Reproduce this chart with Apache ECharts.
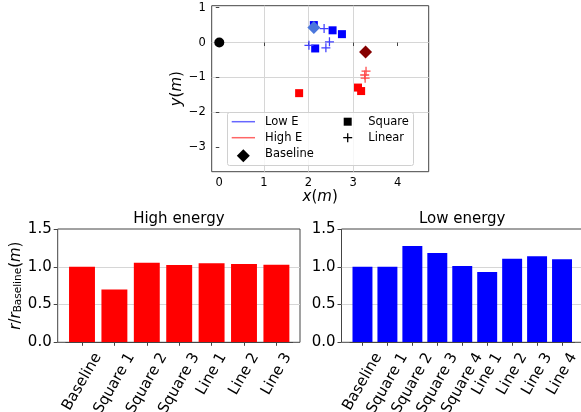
<!DOCTYPE html>
<html>
<head>
<meta charset="utf-8">
<script src="https://cdn.jsdelivr.net/npm/echarts@6/dist/echarts.min.js"></script>
<style>
  html, body { margin: 0; padding: 0; background: #fff; }
  #main { width: 581px; height: 412px; }
</style>
</head>
<body>
<div id="main"></div>
<script>
// top panel: positions in metres
const xTicks = [0, 1, 2, 3, 4];
const yTicks = [1, 0, -1, -2, -3];
const origin = [[0, 0]];
const lowSquare = [[2.15, -0.17], [2.75, 0.24], [2.54, 0.35], [2.12, 0.50]];
const lowLinear = [[2.01, -0.08], [2.39, -0.15], [2.47, 0.02], [2.35, 0.40]];
const highSquare = [[1.79, -1.45], [3.18, -1.39], [3.11, -1.29]];
const highLinear = [[3.27, -1.02], [3.26, -0.93], [3.29, -0.82]];
const lowBaseline = [[2.12, 0.43]];
const highBaseline = [[3.28, -0.27]];
const legendLabels = ['Low E', 'High E', 'Baseline', 'Square', 'Linear'];

// bottom panels: r / r_Baseline
const highCats = ['Baseline', 'Square 1', 'Square 2', 'Square 3', 'Line 1', 'Line 2', 'Line 3'];
const highRatio = [1.0, 0.70, 1.054, 1.024, 1.046, 1.037, 1.028];
const lowCats = ['Baseline', 'Square 1', 'Square 2', 'Square 3', 'Square 4', 'Line 1', 'Line 2', 'Line 3', 'Line 4'];
const lowRatio = [1.0, 1.0, 1.275, 1.183, 1.01, 0.931, 1.107, 1.139, 1.099];
const barTicks = [0, 0.5, 1.0, 1.5];

const FONT = '"DejaVu Sans", sans-serif';
const frame = '#444';
const gridCol = '#d6d6d6';
const plusPath = 'path://M4.3,0h1.4v4.3h4.3v1.4h-4.3v4.3h-1.4v-4.3h-4.3v-1.4h4.3z';

function minus(v) { return String(v).replace('-', '\u2212'); }

// matplotlib centres the rotated label's box under the tick,
// echarts hangs it from its end: push each label with rich padding
const measureCtx = document.createElement('canvas').getContext('2d');
function tiltedRich(cats, fs) {
  measureCtx.font = fs + 'px "DejaVu Sans"';
  const rich = {};
  cats.forEach(function (c, i) {
    const w = measureCtx.measureText(c).width;
    const dx = 0.25 * w, dy = 12;
    const b = 0.866 * dx + 0.5 * dy;
    const r = Math.max(0, 0.866 * dy - 0.5 * dx);
    rich['t' + i] = { fontSize: fs, fontFamily: FONT, color: '#000', padding: [2 * b, r, 0, 0] };
  });
  return rich;
}

const mathRich = {
  i: { fontSize: 15, fontStyle: 'italic', fontFamily: FONT, color: '#000' },
  n: { fontSize: 15, fontFamily: FONT, color: '#000' },
  s: { fontSize: 10.5, fontFamily: FONT, color: '#000', verticalAlign: 'bottom' }
};

function frameGrid(left, width) {
  return { left: left, top: 229, width: width, height: 113.3, show: true, borderColor: frame,
    borderWidth: 1, backgroundColor: '#fff', outerBoundsMode: 'none', containLabel: false };
}
function barGrid(left, width) {
  return { left: left, top: 229, width: width, height: 113.3, outerBoundsMode: 'none', containLabel: false };
}
function frameY(idx, name) {
  return {
    gridIndex: idx, type: 'value', min: 0, max: 1.5, interval: 0.5,
    axisLine: { show: false },
    axisTick: { show: true, length: 4, lineStyle: { color: frame } },
    axisLabel: { fontSize: 15, fontFamily: FONT, color: '#000', margin: 6,
      formatter: function (v) { return v.toFixed(1); } },
    splitLine: { show: true, showMinLine: false, showMaxLine: false, lineStyle: { color: gridCol, width: 1 } },
    name: name, nameLocation: 'middle', nameRotate: 90, nameGap: 32,
    nameTextStyle: { rich: mathRich }
  };
}
function barX(idx, cats) {
  return {
    gridIndex: idx, type: 'category', data: cats, z: 5,
    axisLine: { show: true, lineStyle: { color: frame, width: 1 } },
    axisTick: { show: true, alignWithLabel: true, length: 3.5, lineStyle: { color: frame } },
    axisLabel: { interval: 0, rotate: 60, margin: 0, align: 'right', verticalAlign: 'middle',
      fontSize: 15, fontFamily: FONT, color: '#000', rich: tiltedRich(cats, 15),
      formatter: function (v, i) { return '{t' + i + '|' + v + '}'; } },
    splitLine: { show: false }
  };
}

const scatterBase = { type: 'scatter', xAxisIndex: 0, yAxisIndex: 0 };
function pts(data, symbol, size, color) {
  return Object.assign({}, scatterBase, { data: data, symbol: symbol, symbolSize: size,
    itemStyle: { color: color, opacity: 1 } });
}

const chart = echarts.init(document.getElementById('main'));
chart.setOption({
  animation: false,
  backgroundColor: '#fff',
  textStyle: { fontFamily: FONT },
  title: [
    { text: 'High energy', left: 178.9, top: 211.5, textAlign: 'center', padding: 0,
      textStyle: { fontSize: 15, fontWeight: 'normal', color: '#000', fontFamily: FONT } },
    { text: 'Low energy', left: 462.2, top: 211.5, textAlign: 'center', padding: 0,
      textStyle: { fontSize: 15, fontWeight: 'normal', color: '#000', fontFamily: FONT } }
  ],
  grid: [
    { left: 211.7, top: 5.7, width: 217, height: 166, show: true, borderColor: frame, borderWidth: 1,
      backgroundColor: '#fff', outerBoundsMode: 'none', containLabel: false },
    frameGrid(57.7, 242.3),
    barGrid(65.8, 226.8),
    frameGrid(341.5, 241.5),
    barGrid(350, 224.5)
  ],
  xAxis: [
    { gridIndex: 0, type: 'value', min: -0.17, max: 4.695,
      axisLine: { show: false },
      axisTick: { show: true, customValues: xTicks, length: 3.5, lineStyle: { color: frame } },
      axisLabel: { customValues: xTicks, fontSize: 11.5, fontFamily: FONT, color: '#000', margin: 5, formatter: minus },
      splitLine: { show: true, showMinLine: false, showMaxLine: false, lineStyle: { color: gridCol, width: 1 } },
      name: '{i|x}{n|(}{i|m}{n|)}', nameLocation: 'middle', nameGap: 18, nameTextStyle: { rich: mathRich } },
    { gridIndex: 1, type: 'value', min: 0, max: 1, show: false },
    barX(2, highCats),
    { gridIndex: 3, type: 'value', min: 0, max: 1, show: false },
    barX(4, lowCats)
  ],
  yAxis: [
    { gridIndex: 0, type: 'value', min: -3.70, max: 1.055,
      axisLine: { show: false },
      axisTick: { show: true, customValues: yTicks, length: 3.5, lineStyle: { color: frame } },
      axisLabel: { customValues: yTicks, fontSize: 11.5, fontFamily: FONT, color: '#000', margin: 6, formatter: minus },
      splitLine: { show: true, showMinLine: false, showMaxLine: false, lineStyle: { color: gridCol, width: 1 } },
      name: '{i|y}{n|(}{i|m}{n|)}', nameLocation: 'middle', nameRotate: 90, nameGap: 24, nameTextStyle: { rich: mathRich } },
    frameY(1, '{i|r}{n|/}{i|r}{s|Baseline}{n|(}{i|m}{n|)}'),
    { gridIndex: 2, type: 'value', min: 0, max: 1.5, show: false },
    frameY(3, ''),
    { gridIndex: 4, type: 'value', min: 0, max: 1.5, show: false }
  ],
  series: [
    pts(origin, 'circle', 10, '#000'),
    pts(lowSquare, 'rect', 8, '#0000ff'),
    pts(lowLinear, plusPath, 9, '#4040ff'),
    pts(highSquare, 'rect', 8, '#ff0000'),
    pts(highLinear, plusPath, 9, '#ff4a4a'),
    pts(lowBaseline, 'diamond', 13, '#4b77dc'),
    pts(highBaseline, 'diamond', 13, '#850000'),
    { type: 'bar', xAxisIndex: 2, yAxisIndex: 2, data: highRatio, barWidth: '80%',
      itemStyle: { color: '#ff0000' } },
    { type: 'bar', xAxisIndex: 4, yAxisIndex: 4, data: lowRatio, barWidth: '80%',
      itemStyle: { color: '#0000ff' } }
  ],
  graphic: [
    { type: 'rect', z: 10, shape: { x: 227.5, y: 112.5, width: 186, height: 53, r: 2 },
      style: { fill: 'rgba(255,255,255,0.8)', stroke: '#d0d0d0', lineWidth: 1 } },
    { type: 'line', z: 11, shape: { x1: 231.7, y1: 121.7, x2: 255, y2: 121.7 },
      style: { stroke: 'rgba(0,0,255,0.6)', lineWidth: 1.5 } },
    { type: 'line', z: 11, shape: { x1: 231.7, y1: 137.7, x2: 255, y2: 137.7 },
      style: { stroke: 'rgba(255,0,0,0.6)', lineWidth: 1.5 } },
    { type: 'polygon', z: 11, shape: { points: [[243.3, 149.2], [249.8, 155.7], [243.3, 162.2], [236.8, 155.7]] },
      style: { fill: '#000' } },
    { type: 'rect', z: 11, shape: { x: 343.7, y: 117.7, width: 8, height: 8 }, style: { fill: '#000' } },
    { type: 'rect', z: 11, shape: { x: 343.2, y: 137, width: 9, height: 1.3 }, style: { fill: '#000' } },
    { type: 'rect', z: 11, shape: { x: 347.05, y: 133.2, width: 1.3, height: 9 }, style: { fill: '#000' } },
    { type: 'text', z: 11, style: { text: legendLabels[0], x: 265, y: 121.7, verticalAlign: 'middle',
      font: '11.5px "DejaVu Sans"', fill: '#000' } },
    { type: 'text', z: 11, style: { text: legendLabels[1], x: 265, y: 137.7, verticalAlign: 'middle',
      font: '11.5px "DejaVu Sans"', fill: '#000' } },
    { type: 'text', z: 11, style: { text: legendLabels[2], x: 265, y: 154.5, verticalAlign: 'middle',
      font: '11.5px "DejaVu Sans"', fill: '#000' } },
    { type: 'text', z: 11, style: { text: legendLabels[3], x: 368.3, y: 121.7, verticalAlign: 'middle',
      font: '11.5px "DejaVu Sans"', fill: '#000' } },
    { type: 'text', z: 11, style: { text: legendLabels[4], x: 368.3, y: 137.7, verticalAlign: 'middle',
      font: '11.5px "DejaVu Sans"', fill: '#000' } }
  ]
});
</script>
</body>
</html>
